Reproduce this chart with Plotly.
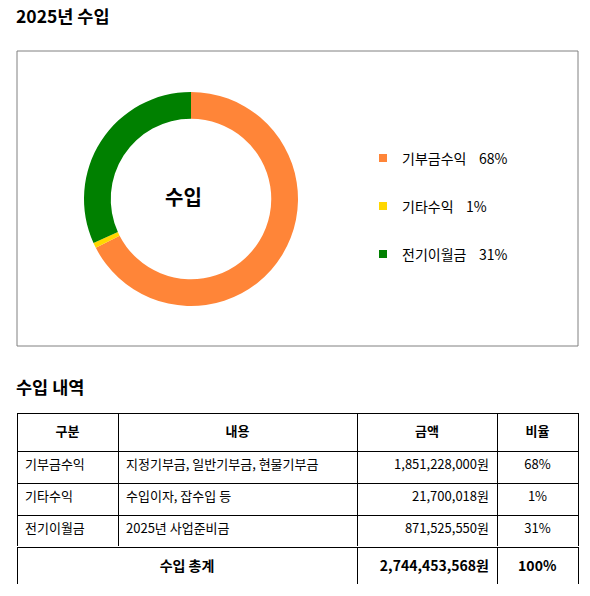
import plotly.graph_objects as go

W, H = 590, 596
FONT = "Noto Sans CJK KR"

# ---- data ----
categories = ["기부금수익", "기타수익", "전기이월금"]
amounts = [1851228000, 21700018, 871525550]
percent_labels = ["68%", "1%", "31%"]
details = ["지정기부금, 일반기부금, 현물기부금", "수입이자, 잡수입 등", "2025년 사업준비금"]
amount_labels = ["1,851,228,000원", "21,700,018원", "871,525,550원"]
total_label = "수입 총계"
total_amount = "2,744,453,568원"
total_percent = "100%"
header_labels = ["구분", "내용", "금액", "비율"]
colors = ["#FF8538", "#FFD700", "#008000"]


def px(x):
    return x / W


def py(y):
    return 1 - y / H


fig = go.Figure()

# donut
fig.add_trace(go.Pie(
    labels=categories, values=amounts,
    hole=0.75, sort=False, direction="clockwise", rotation=0,
    marker=dict(colors=colors, line=dict(width=0)),
    textinfo="none", hoverinfo="label+percent", showlegend=False,
    domain=dict(x=[px(84), px(298)], y=[py(306), py(92)]),
))

# main table (header + rows)
fig.add_trace(go.Table(
    domain=dict(x=[px(17), px(578)], y=[py(547), py(413)]),
    columnwidth=[101, 239, 140, 81],
    header=dict(
        values=["<b>%s</b>" % h for h in header_labels],
        align="center", height=38,
        fill=dict(color="white"), line=dict(color="black", width=1),
        font=dict(family=FONT, size=13, color="black"),
    ),
    cells=dict(
        values=[categories, details, amount_labels, percent_labels],
        align=["left", "left", "right", "center"], height=32,
        fill=dict(color="white"), line=dict(color="black", width=1),
        font=dict(family=FONT, size=13, color="black"),
    ),
))

# total row
fig.add_trace(go.Table(
    domain=dict(x=[px(17), px(578)], y=[py(584), py(547)]),
    columnwidth=[340, 140, 81],
    header=dict(
        values=["<b>%s</b>" % total_label, "<b>%s</b>" % total_amount, "<b>%s</b>" % total_percent],
        align=["center", "right", "center"], height=37,
        fill=dict(color="white"), line=dict(color="black", width=1),
        font=dict(family=FONT, size=14, color="black"),
    ),
    cells=dict(values=[[], [], []], height=0,
               fill=dict(color="white"), line=dict(color="black", width=1)),
))

shapes = [dict(type="rect", xref="paper", yref="paper",
               x0=px(17), x1=px(578), y0=py(346), y1=py(51),
               line=dict(color="#808080", width=1), layer="below")]
annotations = [
    dict(text="<b>2025년 수입</b>", x=px(14), y=py(16), xanchor="left", yanchor="middle",
         font=dict(family=FONT, size=17.5, color="black")),
    dict(text="<b>수입 내역</b>", x=px(14), y=py(386), xanchor="left", yanchor="middle",
         font=dict(family=FONT, size=17.5, color="black")),
    dict(text="<b>수입</b>", x=px(183), y=py(196), xanchor="center", yanchor="middle",
         font=dict(family=FONT, size=20, color="black")),
]

legend_rows = [158, 206, 254]
for cat, pct, col, yy in zip(categories, percent_labels, colors, legend_rows):
    shapes.append(dict(type="rect", xref="paper", yref="paper",
                       x0=px(379), x1=px(387), y0=py(yy + 4), y1=py(yy - 4),
                       fillcolor=col, line=dict(width=0)))
    annotations.append(dict(text=cat + "\u00a0\u00a0\u00a0\u00a0" + pct, x=px(400), y=py(yy),
                            xanchor="left", yanchor="middle",
                            font=dict(family=FONT, size=14, color="black")))

for a in annotations:
    a.update(xref="paper", yref="paper", showarrow=False)

fig.update_layout(
    width=W, height=H, margin=dict(l=0, r=0, t=0, b=0),
    paper_bgcolor="white", plot_bgcolor="white",
    shapes=shapes, annotations=annotations,
)

fig.write_html("out.html", config={"displayModeBar": False},
               post_script="document.body.style.margin='0';document.body.style.overflow='hidden';")
